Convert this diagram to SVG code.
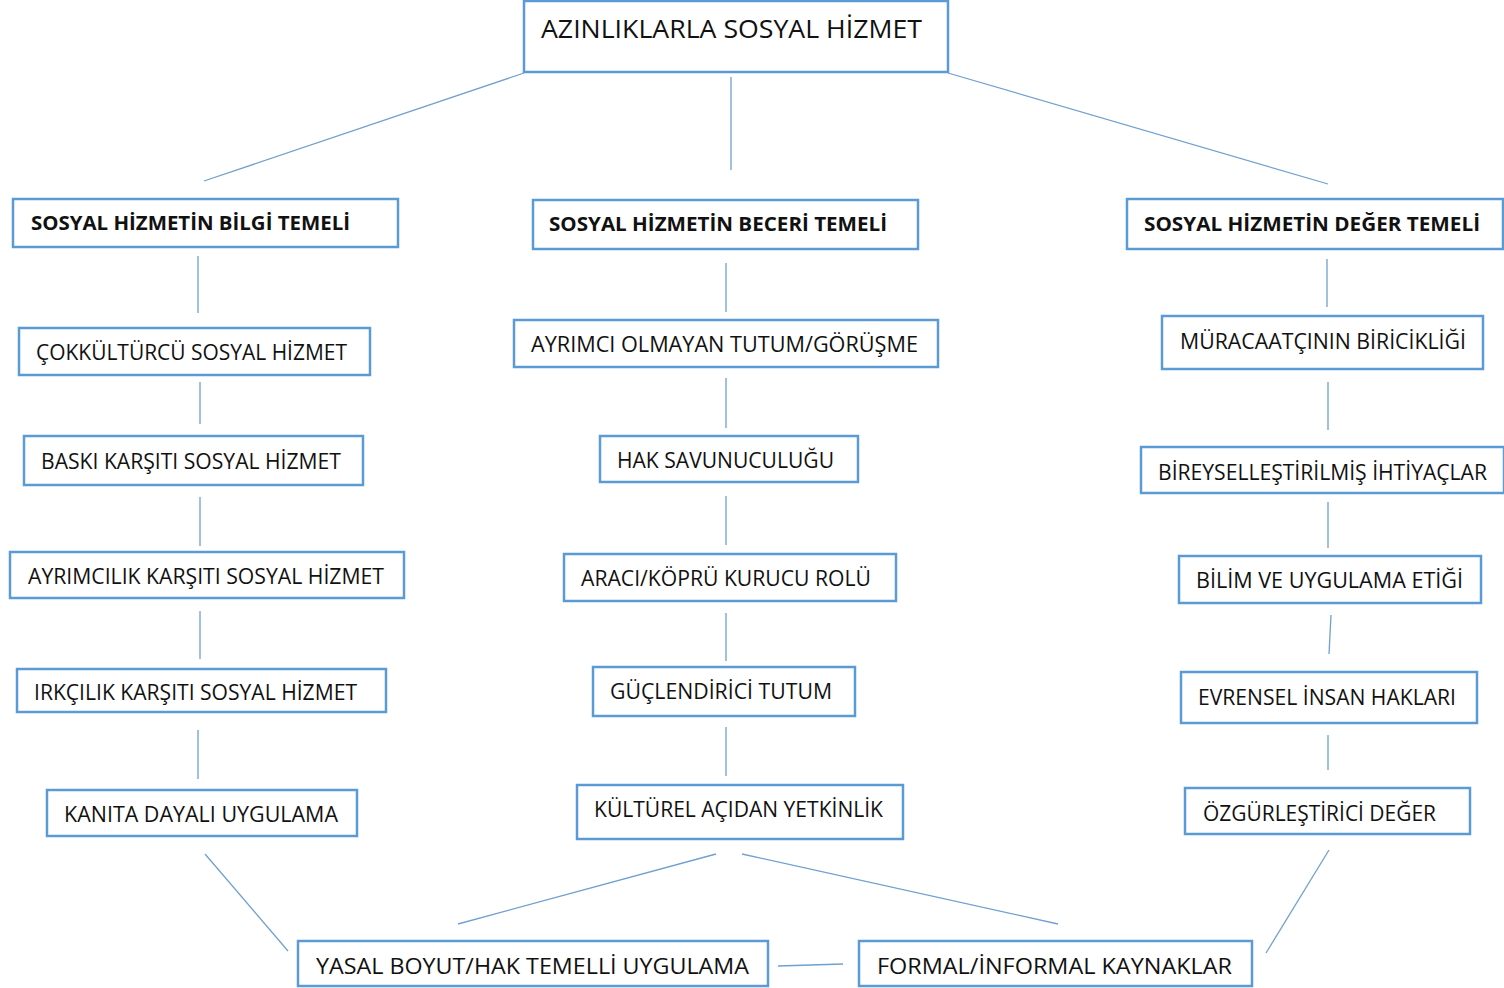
<svg xmlns="http://www.w3.org/2000/svg" width="1504" height="988" viewBox="0 0 1504 988">
<style>
.box{fill:#ffffff;stroke:#5b9bd5;stroke-width:2.5}
.t{font-family:"Open Sans","Liberation Sans",sans-serif;font-size:22px;fill:#111111}
.b{font-family:"Open Sans","Liberation Sans",sans-serif;font-size:20px;font-weight:bold;fill:#111111}
.h{font-family:"Open Sans","Liberation Sans",sans-serif;font-size:26px;fill:#111111}
.c line{stroke:#6fa0d0;stroke-width:1.3}
</style>
<rect width="1504" height="988" fill="#ffffff"/>
<g class="c" id="connectors">
<line x1="524" y1="73" x2="204" y2="181"/>
<line x1="731" y1="77" x2="731" y2="170"/>
<line x1="948" y1="73" x2="1328" y2="184"/>
<line x1="198" y1="256" x2="198" y2="313"/>
<line x1="726" y1="263" x2="726" y2="312"/>
<line x1="1327" y1="259" x2="1327" y2="307"/>
<line x1="200" y1="382" x2="200" y2="424"/>
<line x1="726" y1="378" x2="726" y2="428"/>
<line x1="1328" y1="382" x2="1328" y2="430"/>
<line x1="200" y1="497" x2="200" y2="546"/>
<line x1="726" y1="496" x2="726" y2="545"/>
<line x1="1328" y1="502" x2="1328" y2="548"/>
<line x1="200" y1="611" x2="200" y2="659"/>
<line x1="726" y1="613" x2="726" y2="661"/>
<line x1="1331" y1="615" x2="1329" y2="654"/>
<line x1="198" y1="730" x2="198" y2="779"/>
<line x1="726" y1="727" x2="726" y2="776"/>
<line x1="1328" y1="735" x2="1328" y2="770"/>
<line x1="205" y1="854" x2="288" y2="951"/>
<line x1="716" y1="854" x2="458" y2="924"/>
<line x1="742" y1="854" x2="1058" y2="924"/>
<line x1="1329" y1="850" x2="1266" y2="953"/>
<line x1="778" y1="966" x2="843" y2="964"/>
</g>
<g id="n-root"><rect class="box" x="524" y="1" width="424" height="71"/><text class="h" x="541" y="38" textLength="381" lengthAdjust="spacingAndGlyphs">AZINLIKLARLA SOSYAL HİZMET</text></g>
<g id="n-bilgi"><rect class="box" x="13" y="199" width="385" height="48"/><text class="b" x="31" y="230" textLength="319" lengthAdjust="spacingAndGlyphs">SOSYAL HİZMETİN BİLGİ TEMELİ</text></g>
<g id="n-beceri"><rect class="box" x="533" y="200" width="385" height="49"/><text class="b" x="549" y="231" textLength="338" lengthAdjust="spacingAndGlyphs">SOSYAL HİZMETİN BECERİ TEMELİ</text></g>
<g id="n-deger"><rect class="box" x="1127" y="199" width="376" height="50"/><text class="b" x="1144" y="231" textLength="336" lengthAdjust="spacingAndGlyphs">SOSYAL HİZMETİN DEĞER TEMELİ</text></g>
<g id="n-cok"><rect class="box" x="19" y="328" width="351" height="47"/><text class="t" x="36" y="360" textLength="311" lengthAdjust="spacingAndGlyphs">ÇOKKÜLTÜRCÜ SOSYAL HİZMET</text></g>
<g id="n-baski"><rect class="box" x="24" y="436" width="339" height="49"/><text class="t" x="41" y="469" textLength="300" lengthAdjust="spacingAndGlyphs">BASKI KARŞITI SOSYAL HİZMET</text></g>
<g id="n-ayrimcilik"><rect class="box" x="10" y="552" width="394" height="46"/><text class="t" x="28" y="584" textLength="356" lengthAdjust="spacingAndGlyphs">AYRIMCILIK KARŞITI SOSYAL HİZMET</text></g>
<g id="n-irkcilik"><rect class="box" x="17" y="669" width="369" height="43"/><text class="t" x="34" y="700" textLength="323" lengthAdjust="spacingAndGlyphs">IRKÇILIK KARŞITI SOSYAL HİZMET</text></g>
<g id="n-kanita"><rect class="box" x="47" y="790" width="310" height="46"/><text class="t" x="64" y="822" textLength="274" lengthAdjust="spacingAndGlyphs">KANITA DAYALI UYGULAMA</text></g>
<g id="n-ayrimci"><rect class="box" x="514" y="320" width="424" height="47"/><text class="t" x="531" y="352" textLength="387" lengthAdjust="spacingAndGlyphs">AYRIMCI OLMAYAN TUTUM/GÖRÜŞME</text></g>
<g id="n-hak"><rect class="box" x="600" y="436" width="258" height="46"/><text class="t" x="617" y="468" textLength="217" lengthAdjust="spacingAndGlyphs">HAK SAVUNUCULUĞU</text></g>
<g id="n-araci"><rect class="box" x="564" y="554" width="332" height="47"/><text class="t" x="581" y="586" textLength="290" lengthAdjust="spacingAndGlyphs">ARACI/KÖPRÜ KURUCU ROLÜ</text></g>
<g id="n-guc"><rect class="box" x="593" y="667" width="262" height="49"/><text class="t" x="610" y="699" textLength="222" lengthAdjust="spacingAndGlyphs">GÜÇLENDİRİCİ TUTUM</text></g>
<g id="n-kultur"><rect class="box" x="577" y="785" width="326" height="54"/><text class="t" x="594" y="817" textLength="289" lengthAdjust="spacingAndGlyphs">KÜLTÜREL AÇIDAN YETKİNLİK</text></g>
<g id="n-muracaat"><rect class="box" x="1162" y="316" width="321" height="53"/><text class="t" x="1180" y="349" textLength="286" lengthAdjust="spacingAndGlyphs">MÜRACAATÇININ BİRİCİKLİĞİ</text></g>
<g id="n-bireysel"><rect class="box" x="1141" y="447" width="363" height="46"/><text class="t" x="1158" y="480" textLength="329" lengthAdjust="spacingAndGlyphs">BİREYSELLEŞTİRİLMİŞ İHTİYAÇLAR</text></g>
<g id="n-bilim"><rect class="box" x="1179" y="556" width="302" height="47"/><text class="t" x="1196" y="588" textLength="267" lengthAdjust="spacingAndGlyphs">BİLİM VE UYGULAMA ETİĞİ</text></g>
<g id="n-evrensel"><rect class="box" x="1181" y="672" width="296" height="51"/><text class="t" x="1198" y="705" textLength="258" lengthAdjust="spacingAndGlyphs">EVRENSEL İNSAN HAKLARI</text></g>
<g id="n-ozgur"><rect class="box" x="1185" y="788" width="285" height="46"/><text class="t" x="1203" y="821" textLength="233" lengthAdjust="spacingAndGlyphs">ÖZGÜRLEŞTİRİCİ DEĞER</text></g>
<g id="n-yasal"><rect class="box" x="298" y="941" width="470" height="45"/><text class="t" x="316" y="974" textLength="433" lengthAdjust="spacingAndGlyphs">YASAL BOYUT/HAK TEMELLİ UYGULAMA</text></g>
<g id="n-formal"><rect class="box" x="859" y="941" width="393" height="45"/><text class="t" x="877" y="974" textLength="355" lengthAdjust="spacingAndGlyphs">FORMAL/İNFORMAL KAYNAKLAR</text></g>
</svg>
